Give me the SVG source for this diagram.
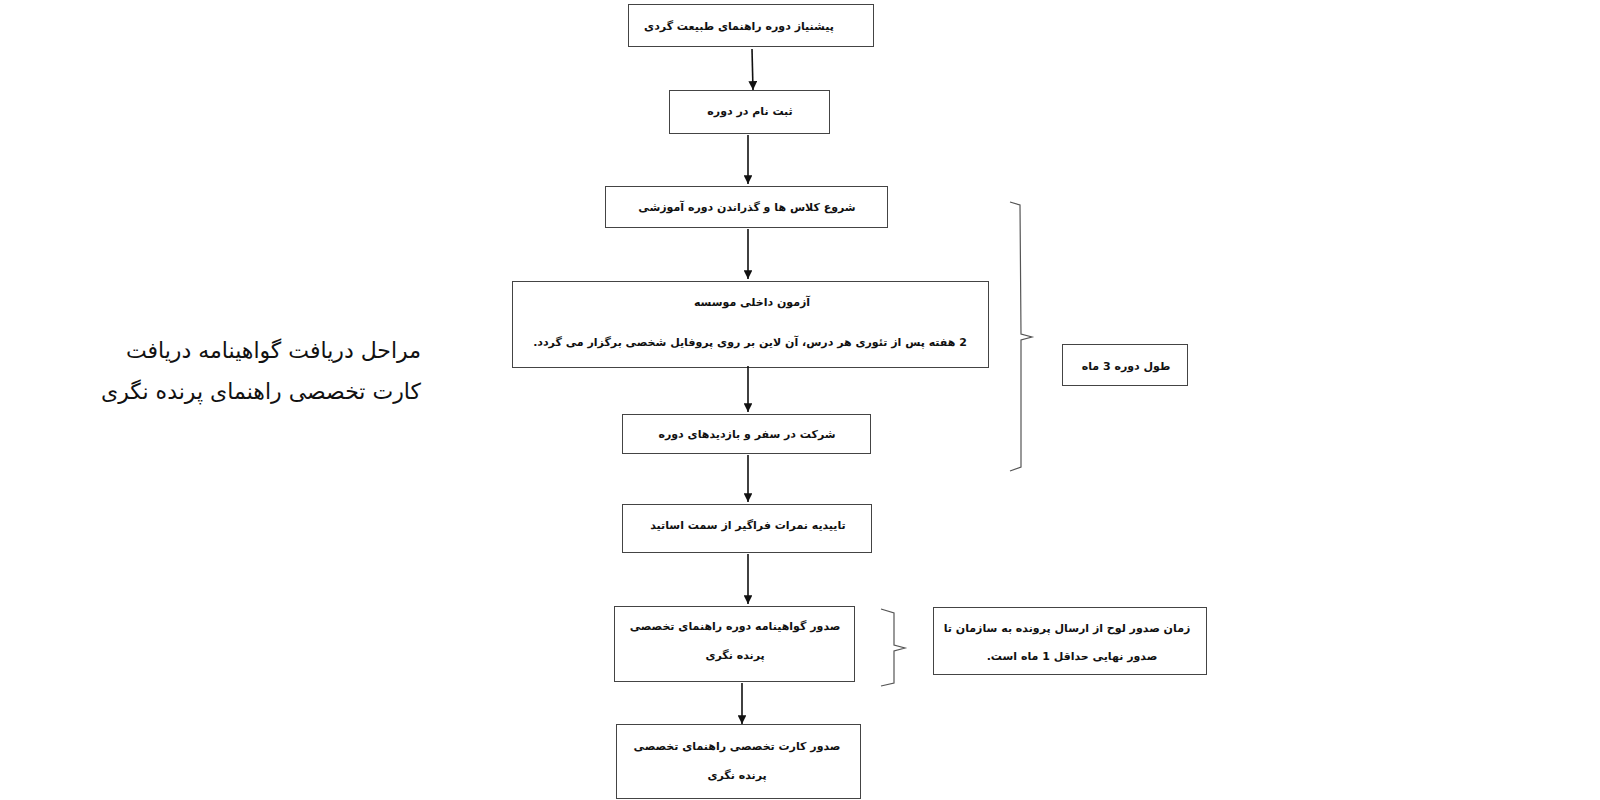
<svg xmlns="http://www.w3.org/2000/svg" width="1600" height="800" viewBox="0 0 1600 800">
<defs>
<style>
.box{fill:#fff;stroke:#444;stroke-width:1}
.t{font-family:"DejaVu Sans","Noto Sans",sans-serif;font-size:11px;font-weight:bold;fill:#111;text-anchor:middle;direction:rtl}
.title{font-family:"DejaVu Sans","Noto Sans",sans-serif;font-size:22px;fill:#111;direction:rtl;text-anchor:start}
.arr{stroke:#111;stroke-width:1.6;fill:none;marker-end:url(#ah)}
.br{stroke:#555;stroke-width:1.2;fill:none}
</style>
<marker id="ah" viewBox="0 0 10 10" refX="10" refY="5" markerWidth="5.5" markerHeight="5.5" markerUnits="strokeWidth" orient="auto">
<path d="M0,0 L10,5 L0,10 z" fill="#111"/>
</marker>
</defs>
<rect width="1600" height="800" fill="#fff"/>
<g id="title">
<text class="title" x="421" y="358">مراحل دریافت گواهینامه دریافت</text>
<text class="title" x="421" y="399">کارت تخصصی راهنمای پرنده نگری</text>
</g>
<g id="n1"><rect class="box" x="628.5" y="4.5" width="245" height="42"/><text class="t" x="739" y="30">پیشنیاز دوره راهنمای طبیعت گردی</text></g>
<g id="n2"><rect class="box" x="669.5" y="90.5" width="160" height="43"/><text class="t" x="750" y="115">ثبت نام در دوره</text></g>
<g id="n3"><rect class="box" x="605.5" y="186.5" width="282" height="41"/><text class="t" x="747" y="211">شروع کلاس ها و گذراندن دوره آموزشی</text></g>
<g id="n4"><rect class="box" x="512.5" y="281.5" width="476" height="86"/><text class="t" x="752" y="306">آزمون داخلی موسسه</text><text class="t" x="750" y="346">2 هفته پس از تئوری هر درس، آن لاین بر روی پروفایل شخصی برگزار می گردد.</text></g>
<g id="n5"><rect class="box" x="622.5" y="414.5" width="248" height="39"/><text class="t" x="747" y="438">شرکت در سفر و بازدیدهای دوره</text></g>
<g id="n6"><rect class="box" x="622.5" y="504.5" width="249" height="48"/><text class="t" x="748" y="529">تاییدیه نمرات فراگیر از سمت اساتید</text></g>
<g id="n7"><rect class="box" x="614.5" y="606.5" width="240" height="75"/><text class="t" x="735" y="630">صدور گواهینامه دوره راهنمای تخصصی</text><text class="t" x="735" y="659">پرنده نگری</text></g>
<g id="n8"><rect class="box" x="616.5" y="724.5" width="244" height="74"/><text class="t" x="737" y="750">صدور کارت تخصصی راهنمای تخصصی</text><text class="t" x="737" y="779">پرنده نگری</text></g>
<g id="n9"><rect class="box" x="1062.5" y="344.5" width="125" height="41"/><text class="t" x="1126" y="370">طول دوره 3 ماه</text></g>
<g id="n10"><rect class="box" x="933.5" y="607.5" width="273" height="67"/><text class="t" x="1067" y="632">زمان صدور لوح از ارسال پرونده به سازمان تا</text><text class="t" x="1072" y="660">صدور نهایی حداقل 1 ماه است.</text></g>
<g id="connectors">
<line class="arr" x1="752" y1="49" x2="753" y2="90"/>
<line class="arr" x1="748" y1="135" x2="748" y2="184"/>
<line class="arr" x1="748" y1="229" x2="748" y2="279"/>
<line class="arr" x1="748" y1="366" x2="748" y2="412"/>
<line class="arr" x1="748" y1="455" x2="748" y2="502"/>
<line class="arr" x1="748" y1="554" x2="748" y2="604"/>
<line class="arr" x1="742" y1="683" x2="742" y2="724"/>
</g>
<g id="braces">
<path class="br" d="M1010,202 L1020,205 L1021,334 L1032,337 L1021,340 L1021,467 L1010,471"/>
<path class="br" d="M881,609 L894,613 L894,645 L905,648 L894,651 L894,683 L881,686"/>
</g>
</svg>
